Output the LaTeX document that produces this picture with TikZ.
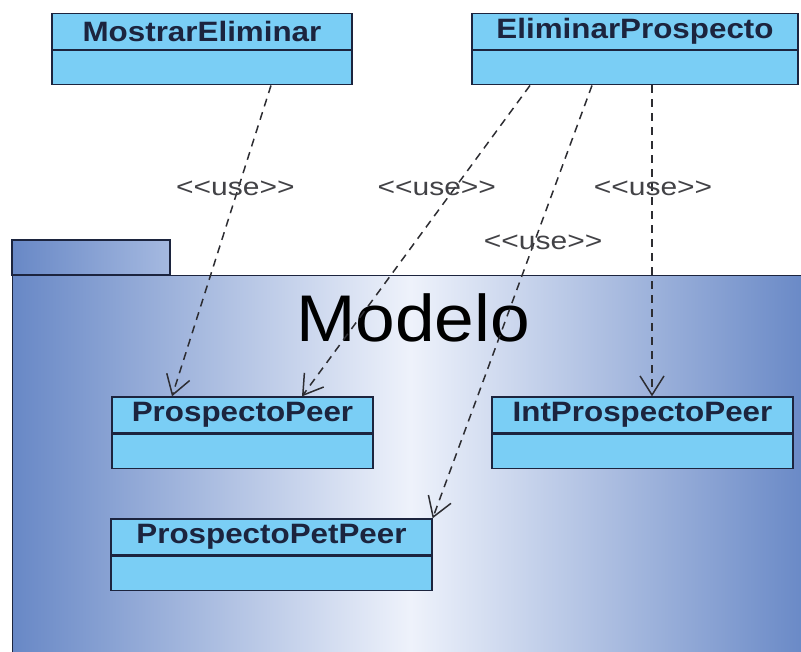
\documentclass[tikz,border=0pt]{standalone}
\usepackage{fontspec}
\usepackage{tikz}
\usetikzlibrary{positioning, arrows.meta, shapes}

\newfontfamily\classfont[FakeStretch=1.12]{Liberation Sans Bold}
\newfontfamily\labelfont[FakeStretch=1.2]{Liberation Sans}
\newfontfamily\pkgfont[FakeStretch=1.08]{Liberation Sans}

\definecolor{classblue}{RGB}{122,206,245}
\definecolor{linecol}{RGB}{28,36,62}
\definecolor{pkgblue}{RGB}{104,136,198}
\definecolor{pkglight}{RGB}{238,242,251}
\definecolor{tabright}{RGB}{165,185,224}
\definecolor{depcol}{RGB}{45,45,50}

\tikzset{
  classtitle/.style={draw=linecol, fill=classblue, line width=1.3pt, inner sep=0pt,
    minimum height=36pt, font=\classfont\fontsize{28}{30}\selectfont, text=linecol},
  classbody/.style={draw=linecol, fill=classblue, line width=1.3pt, inner sep=0pt,
    minimum height=34pt},
  usedep/.style={draw=depcol, line width=1.5pt, dash pattern=on 8pt off 6pt,
    -{Straight Barb[length=19pt,width=24pt,line width=1.5pt]}},
  uselabel/.style={font=\labelfont\fontsize{25}{27}\selectfont, text=depcol!90, inner sep=0pt}
}

\begin{document}
\begin{tikzpicture}[x=1pt,y=-1pt]
  \useasboundingbox (0,0) rectangle (801,652);
  % package Modelo
  \node[draw=linecol, line width=1.3pt, left color=pkgblue, right color=tabright,
    minimum width=158pt, minimum height=35pt, inner sep=0pt] (tab) at (91,257.5) {};
  \node[draw=linecol, line width=1.3pt, left color=pkgblue, right color=pkgblue, middle color=pkglight,
    minimum width=796pt, minimum height=385pt, inner sep=0pt, anchor=north west] (pkg) at (12,275) {};
  \node[font=\pkgfont\fontsize{66}{70}\selectfont, inner sep=0pt, anchor=base] (modelo) at (413,342) {Modelo};

  % classes
  \node[classtitle, minimum width=300pt] (mostrar) at (202,31.5) {MostrarEliminar};
  \node[classbody, minimum width=300pt] (mostrar_b) [below=0pt of mostrar] {};
  \node[classtitle, minimum width=326pt] (eliminar) at (635,31.5) {EliminarProspecto};
  \node[classbody, minimum width=326pt] (eliminar_b) [below=0pt of eliminar] {};

  \node[classtitle, minimum width=261pt] (peer) at (242.5,415) {ProspectoPeer};
  \node[classbody, minimum width=261pt] (peer_b) [below=0pt of peer] {};
  \node[classtitle, minimum width=301pt] (intpeer) at (642.5,415) {IntProspectoPeer};
  \node[classbody, minimum width=301pt] (intpeer_b) [below=0pt of intpeer] {};
  \node[classtitle, minimum width=321pt] (petpeer) at (271.5,537) {ProspectoPetPeer};
  \node[classbody, minimum width=321pt] (petpeer_b) [below=0pt of petpeer] {};

  % dependencies
  \path
  ([xshift=69pt]mostrar_b.south) edge[usedep] node[uselabel, pos=0.33, xshift=-3pt] {<{}<use>{}>} ([xshift=-70.5pt]peer.north)
  ([xshift=-105pt]eliminar_b.south) edge[usedep] node[uselabel, pos=0.33, xshift=-18pt] {<{}<use>{}>} ([xshift=59.5pt]peer.north)
  ([xshift=-43pt]eliminar_b.south) edge[usedep] node[uselabel, pos=0.363, xshift=9pt] {<{}<use>{}>} (petpeer.north east)
  ([xshift=17pt]eliminar_b.south) edge[usedep] node[uselabel, pos=0.33, xshift=1pt] {<{}<use>{}>} ([xshift=9.5pt]intpeer.north)
  ;
\end{tikzpicture}
\end{document}
